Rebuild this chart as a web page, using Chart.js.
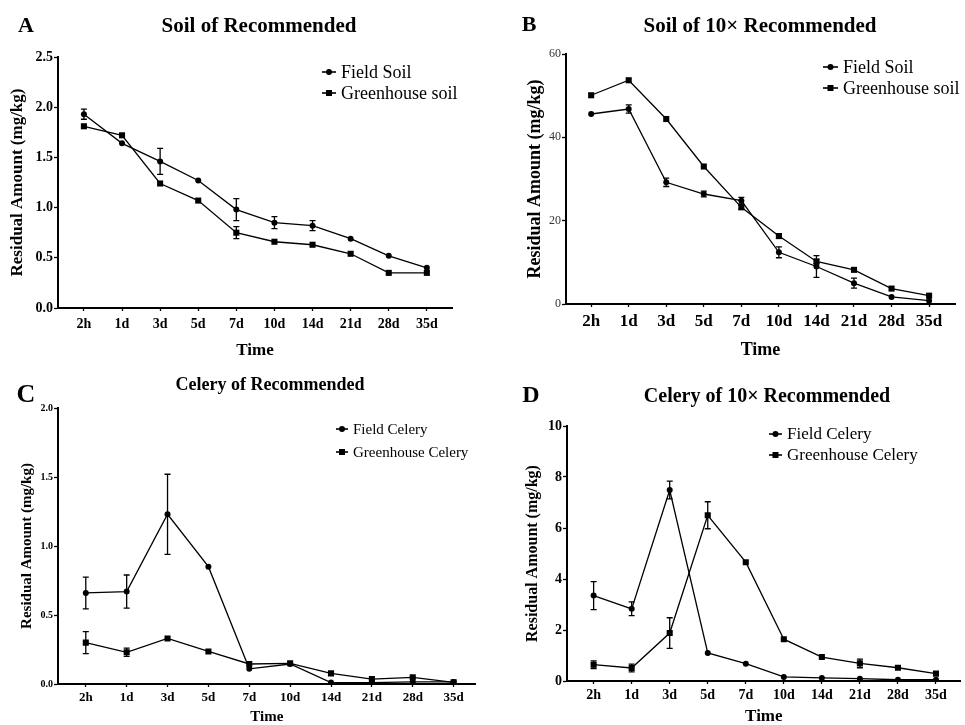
<!DOCTYPE html>
<html>
<head>
<meta charset="utf-8">
<script src="https://cdn.jsdelivr.net/npm/chart.js@4.4.0/dist/chart.umd.min.js"></script>
<style>
  body { margin: 0; background: #fff; width: 965px; height: 725px; position: relative; overflow: hidden; }
  canvas { position: absolute; }
</style>
</head>
<body>
<canvas id="panelA" width="480" height="362" style="left:0;top:0"></canvas>
<canvas id="panelB" width="485" height="362" style="left:480px;top:0"></canvas>
<canvas id="panelC" width="480" height="363" style="left:0;top:362px"></canvas>
<canvas id="panelD" width="485" height="363" style="left:480px;top:362px"></canvas>
<script>
// sampling times
var times = ['2h', '1d', '3d', '5d', '7d', '10d', '14d', '21d', '28d', '35d'];

// A - soil, recommended dose
var soilField = [1.93, 1.64, 1.46, 1.27, 0.98, 0.85, 0.82, 0.69, 0.52, 0.40];
var soilFieldErr = [0.05, 0, 0.13, 0, 0.11, 0.06, 0.05, 0, 0, 0];
var soilGreen = [1.81, 1.72, 1.24, 1.07, 0.75, 0.66, 0.63, 0.54, 0.35, 0.35];
var soilGreenErr = [0, 0, 0, 0, 0.06, 0, 0, 0, 0, 0];

// B - soil, 10x dose
var soil10Field = [45.6, 46.8, 29.2, 26.4, 24.8, 12.4, 9.0, 5.0, 1.7, 0.8];
var soil10FieldErr = [0, 1.0, 1.0, 0.7, 0.8, 1.3, 2.6, 1.2, 0, 0];
var soil10Green = [50.1, 53.7, 44.4, 33.0, 23.2, 16.3, 10.2, 8.2, 3.7, 2.0];
var soil10GreenErr = [0, 0, 0, 0, 0.5, 0.5, 0.5, 0, 0, 0];

// C - celery, recommended dose
var celeryField = [0.66, 0.67, 1.23, 0.85, 0.11, 0.145, 0.01, 0.01, 0.015, 0.015];
var celeryFieldErr = [0.115, 0.12, 0.29, 0, 0, 0, 0, 0, 0, 0];
var celeryGreen = [0.30, 0.23, 0.33, 0.236, 0.145, 0.15, 0.077, 0.036, 0.048, 0.012];
var celeryGreenErr = [0.08, 0.03, 0, 0, 0, 0, 0, 0, 0, 0];

// D - celery, 10x dose
var celery10Field = [3.35, 2.83, 7.49, 1.10, 0.68, 0.16, 0.12, 0.09, 0.05, 0.05];
var celery10FieldErr = [0.55, 0.27, 0.35, 0, 0, 0, 0, 0, 0, 0];
var celery10Green = [0.64, 0.51, 1.88, 6.5, 4.66, 1.64, 0.94, 0.69, 0.52, 0.29];
var celery10GreenErr = [0.15, 0.15, 0.6, 0.53, 0, 0, 0, 0.17, 0, 0];

var SERIF = '"Liberation Serif", "Times New Roman", serif';

function toPoints(arr) {
  return arr.map(function (v, i) { return { x: i, y: v }; });
}

var errorBars = {
  id: 'errorBars',
  afterDatasetsDraw: function (chart) {
    var ctx = chart.ctx, ys = chart.scales.y;
    chart.data.datasets.forEach(function (ds, i) {
      var meta = chart.getDatasetMeta(i);
      ctx.save();
      ctx.strokeStyle = '#000';
      ctx.lineWidth = 1.3;
      meta.data.forEach(function (pt, j) {
        var e = ds.errors[j];
        if (!e) return;
        var v = ds.data[j].y;
        var top = ys.getPixelForValue(v + e), bot = ys.getPixelForValue(v - e);
        ctx.beginPath();
        ctx.moveTo(pt.x, top); ctx.lineTo(pt.x, bot);
        ctx.moveTo(pt.x - 3, top); ctx.lineTo(pt.x + 3, top);
        ctx.moveTo(pt.x - 3, bot); ctx.lineTo(pt.x + 3, bot);
        ctx.stroke();
      });
      ctx.restore();
    });
  }
};

// titles, panel letter and the in-plot legend
function decorations(p) {
  return {
    id: 'decor',
    afterDraw: function (chart) {
      var ctx = chart.ctx;
      ctx.save();
      ctx.fillStyle = '#000';
      ctx.strokeStyle = '#000';
      ctx.textBaseline = 'middle';
      ctx.textAlign = 'center';
      ctx.font = 'bold ' + p.letterSize + 'px ' + SERIF;
      ctx.fillText(p.letter, p.letterX, p.letterY);
      ctx.font = 'bold ' + p.titleSize + 'px ' + SERIF;
      ctx.fillText(p.title, p.titleX, p.titleY);

      ctx.textAlign = 'left';
      ctx.font = p.legendSize + 'px ' + SERIF;
      chart.data.datasets.forEach(function (ds, i) {
        var y = p.legendY[i];
        var cx = (p.legendX0 + p.legendX1) / 2;
        ctx.lineWidth = 1.6;
        ctx.beginPath();
        ctx.moveTo(p.legendX0, y); ctx.lineTo(p.legendX1, y);
        ctx.stroke();
        ctx.beginPath();
        if (i === 0) {
          ctx.arc(cx, y, 3, 0, Math.PI * 2);
          ctx.fill();
        } else {
          ctx.fillRect(cx - 3, y - 3, 6, 6);
        }
        ctx.fillText(ds.label, p.legendX1 + 5, y + 1);
      });
      ctx.restore();
    }
  };
}

function makePanel(p) {
  var lineStyle = {
    borderColor: '#000', backgroundColor: '#000', borderWidth: 1.3,
    pointBackgroundColor: '#000', pointBorderWidth: 0, tension: 0, fill: false
  };
  return new Chart(p.id, {
    type: 'line',
    data: {
      datasets: [
        Object.assign({ label: p.labels[0], data: toPoints(p.field), errors: p.fieldErr,
          pointStyle: 'circle', pointRadius: 3 }, lineStyle),
        Object.assign({ label: p.labels[1], data: toPoints(p.green), errors: p.greenErr,
          pointStyle: 'rect', pointRadius: 4.3 }, lineStyle)
      ]
    },
    options: {
      responsive: false,
      animation: false,
      layout: { padding: { left: 0, top: p.top, right: p.right, bottom: 0 } },
      plugins: { legend: { display: false }, tooltip: { enabled: false } },
      scales: {
        x: {
          type: 'linear',
          min: p.xmin, max: p.xmax,
          afterFit: function (s) { s.height = p.xh; },
          grid: { display: true, drawOnChartArea: false, drawTicks: true, tickLength: 3, color: '#000', tickWidth: 1.3 },
          border: { color: '#000', width: 2 },
          ticks: {
            stepSize: 1, includeBounds: false, autoSkip: false, maxRotation: 0,
            color: '#000', padding: p.xtickPad,
            font: { family: SERIF, size: p.xtickSize, weight: 'bold' },
            callback: function (v) { return Number.isInteger(v) && times[v] ? times[v] : ''; }
          },
          title: {
            display: true, text: 'Time', color: '#000',
            font: { family: SERIF, size: p.xtitleSize, weight: 'bold', lineHeight: 1 },
            padding: { top: 0, bottom: p.xtitlePad }
          }
        },
        y: {
          min: 0, max: p.ymax,
          afterFit: function (s) { s.width = p.yw; },
          grid: { display: true, drawOnChartArea: false, drawTicks: true, tickLength: 4, color: '#000', tickWidth: 1.3 },
          border: { color: '#000', width: 2 },
          ticks: {
            stepSize: p.ystep, color: p.ytickColor, padding: 1,
            font: { family: SERIF, size: p.ytickSize, weight: p.ytickWeight },
            callback: p.yfmt
          },
          title: {
            display: true, text: 'Residual Amount (mg/kg)', color: '#000',
            font: { family: SERIF, size: p.ytitleSize, weight: 'bold', lineHeight: 1 },
            padding: { top: p.ytitlePad, bottom: 0 }
          }
        }
      }
    },
    plugins: [errorBars, decorations(p)]
  });
}

var fixed1 = function (v) { return v.toFixed(1); };
var plain = function (v) { return String(v); };

makePanel({
  id: 'panelA', field: soilField, fieldErr: soilFieldErr, green: soilGreen, greenErr: soilGreenErr,
  labels: ['Field Soil', 'Greenhouse soil'],
  top: 57, right: 28, yw: 58, xh: 54, xmin: -0.68, xmax: 9.66,
  ymax: 2.5, ystep: 0.5, yfmt: fixed1, ytickSize: 14, ytickWeight: 'bold', ytickColor: '#000',
  xtickSize: 14, xtickPad: 5, xtitleSize: 17, xtitlePad: 3, ytitleSize: 17, ytitlePad: 9,
  letter: 'A', letterSize: 22, letterX: 26, letterY: 26,
  title: 'Soil of Recommended', titleSize: 21, titleX: 259, titleY: 27,
  legendSize: 18, legendX0: 322, legendX1: 336, legendY: [72, 93]
});

makePanel({
  id: 'panelB', field: soil10Field, fieldErr: soil10FieldErr, green: soil10Green, greenErr: soil10GreenErr,
  labels: ['Field Soil', 'Greenhouse soil'],
  top: 54, right: 10, yw: 86, xh: 58, xmin: -0.67, xmax: 9.69,
  ymax: 60, ystep: 20, yfmt: plain, ytickSize: 12, ytickWeight: 'normal', ytickColor: '#333',
  xtickSize: 17, xtickPad: 4, xtitleSize: 18, xtitlePad: 3, ytitleSize: 18, ytitlePad: 46,
  letter: 'B', letterSize: 22, letterX: 49, letterY: 25,
  title: 'Soil of 10\u00d7 Recommended', titleSize: 21, titleX: 280, titleY: 27,
  legendSize: 18, legendX0: 343, legendX1: 358, legendY: [67, 88]
});

makePanel({
  id: 'panelC', field: celeryField, fieldErr: celeryFieldErr, green: celeryGreen, greenErr: celeryGreenErr,
  labels: ['Field Celery', 'Greenhouse Celery'],
  top: 46, right: 2, yw: 58, xh: 41, xmin: -0.68, xmax: 9.54,
  ymax: 2.0, ystep: 0.5, yfmt: fixed1, ytickSize: 10, ytickWeight: 'bold', ytickColor: '#000',
  xtickSize: 13, xtickPad: 3, xtitleSize: 15, xtitlePad: 0, ytitleSize: 15, ytitlePad: 20,
  letter: 'C', letterSize: 26, letterX: 26, letterY: 33,
  title: 'Celery of Recommended', titleSize: 18, titleX: 270, titleY: 23,
  legendSize: 15, legendX0: 336, legendX1: 348, legendY: [67, 90]
});

makePanel({
  id: 'panelD', field: celery10Field, fieldErr: celery10FieldErr, green: celery10Green, greenErr: celery10GreenErr,
  labels: ['Field Celery', 'Greenhouse Celery'],
  top: 64, right: 0, yw: 87, xh: 44, xmin: -0.70, xmax: 9.65,
  ymax: 10, ystep: 2, yfmt: plain, ytickSize: 14, ytickWeight: 'bold', ytickColor: '#000',
  xtickSize: 14, xtickPad: 3, xtitleSize: 17, xtitlePad: 0, ytitleSize: 16, ytitlePad: 45,
  letter: 'D', letterSize: 24, letterX: 51, letterY: 34,
  title: 'Celery of 10\u00d7 Recommended', titleSize: 20, titleX: 287, titleY: 35,
  legendSize: 17, legendX0: 289, legendX1: 302, legendY: [72, 93]
});
</script>
</body>
</html>
